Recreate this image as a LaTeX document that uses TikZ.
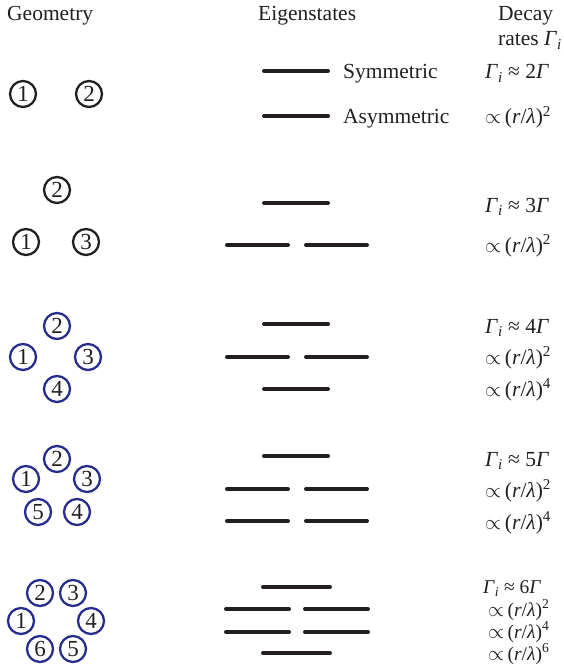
\documentclass[tikz,border=0pt]{standalone}
\usepackage{fontspec}
\setmainfont{Liberation Serif}
\definecolor{navy}{RGB}{40,44,140}
\definecolor{ink}{RGB}{35,31,32}
\newcommand\Gm{\textit{Γ}}
\newcommand\Gi{\textit{Γ}\textsubscript{\textit{i}}}
\newcommand\prp[1]{$\propto$\,(\textit{r}/\textit{λ})\textsuperscript{#1}}
\newcommand\apx[1]{\Gi\ ≈\ #1\Gm}
\begin{document}
\begin{tikzpicture}[x=1pt,y=-1pt,
  txt/.style={anchor=base west,inner sep=0pt,font=\fontsize{21.5}{25}\selectfont,text=ink},
  stxt/.style={txt,font=\fontsize{19.5}{22}\selectfont},
  atom/.style={circle,draw=ink,line width=2.3pt,minimum size=26pt,inner sep=0pt,font=\fontsize{23}{26}\selectfont,text=ink},
  batom/.style={atom,draw=navy},
  level/.style={line width=4pt,line cap=round,draw=ink}]
\useasboundingbox (0,0) rectangle (564,671);
% headers
\node[txt] (hgeo) at (7,21) {Geometry};
\node[txt] (heig) at (258,21) {Eigenstates};
\node[txt] (hdec) at (498,21) {Decay};
\node[txt] (hrat) at (498,46) {rates \Gi};
% row 1
\node[atom] (a11) at (23,94) {1};
\node[atom] (a12) at (89,94) {2};
\draw[level] (264,71) -- (328,71);
\draw[level] (264,116) -- (328,116);
\node[txt] (sym) at (343,79) {Symmetric};
\node[txt] (asym) at (343,124) {Asymmetric};
\node[txt] (r11) at (485,79) {\apx{2}};
\node[txt] (r12) at (485,124) {\prp{2}};
% row 2
\node[atom] (a22) at (57,190) {2};
\node[atom] (a21) at (26,242) {1};
\node[atom] (a23) at (86,242) {3};
\draw[level] (264,203) -- (328,203);
\draw[level] (227,245) -- (288,245);
\draw[level] (306,245) -- (367,245);
\node[txt] (r21) at (485,212) {\apx{3}};
\node[txt] (r22) at (485,252) {\prp{2}};
% row 3
\node[batom] (a32) at (57,326) {2};
\node[batom] (a31) at (23,357) {1};
\node[batom] (a33) at (88,357) {3};
\node[batom] (a34) at (57,389) {4};
\draw[level] (264,324) -- (328,324);
\draw[level] (227,357) -- (288,357);
\draw[level] (306,357) -- (367,357);
\draw[level] (264,389) -- (328,389);
\node[txt] (r31) at (485,333) {\apx{4}};
\node[txt] (r32) at (485,364) {\prp{2}};
\node[txt] (r33) at (485,396) {\prp{4}};
% row 4
\node[batom] (a42) at (57,459) {2};
\node[batom] (a41) at (26,479) {1};
\node[batom] (a43) at (87,479) {3};
\node[batom] (a45) at (38,512) {5};
\node[batom] (a44) at (77,512) {4};
\draw[level] (264,456) -- (328,456);
\draw[level] (227,489) -- (288,489);
\draw[level] (306,489) -- (367,489);
\draw[level] (227,521) -- (288,521);
\draw[level] (306,521) -- (367,521);
\node[txt] (r41) at (485,466) {\apx{5}};
\node[txt] (r42) at (485,497) {\prp{2}};
\node[txt] (r43) at (485,529) {\prp{4}};
% row 5
\node[batom] (a52) at (40,593) {2};
\node[batom] (a53) at (73,593) {3};
\node[batom] (a51) at (21,621) {1};
\node[batom] (a54) at (91,621) {4};
\node[batom] (a56) at (40,649) {6};
\node[batom] (a55) at (73,649) {5};
\draw[level] (263,587) -- (330,587);
\draw[level] (226,609) -- (289,609);
\draw[level] (305,609) -- (368,609);
\draw[level] (226,632) -- (289,632);
\draw[level] (305,632) -- (368,632);
\draw[level] (263,653) -- (330,653);
\node[stxt] (r51) at (483,593) {\apx{6}};
\node[stxt] (r52) at (488,616) {\prp{2}};
\node[stxt] (r53) at (488,638) {\prp{4}};
\node[stxt] (r54) at (488,660) {\prp{6}};
\end{tikzpicture}
\end{document}
